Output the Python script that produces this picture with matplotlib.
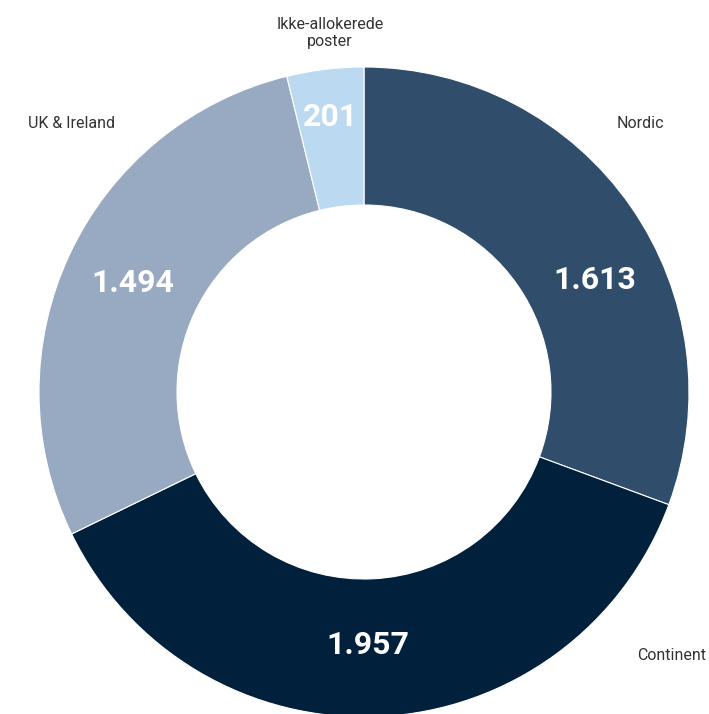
import numpy as np
import matplotlib
matplotlib.use("Agg")
import matplotlib.pyplot as plt

categories = ["Nordic", "Continent", "UK & Ireland", "Ikke-allokerede\nposter"]
values = [1613, 1957, 1494, 201]
value_labels = ["1.613", "1.957", "1.494", "201"]
colors = ["#304E6C", "#00203C", "#98A9C2", "#BCD9F2"]

W, H = 709, 714
fig = plt.figure(figsize=(W / 100, H / 100), dpi=100)
ax = fig.add_axes([0, 0, 1, 1])

cx, cy = 364, H - 392
R_out, R_in = 325, 187

wedges, _ = ax.pie(values, colors=colors, startangle=90, counterclock=False,
                   radius=R_out, center=(cx, cy),
                   wedgeprops=dict(width=R_out - R_in, edgecolor="white", linewidth=0.8),
                   frame=True)
ax.set_xlim(0, W)
ax.set_ylim(0, H)
ax.set_aspect("equal")
ax.axis("off")

# value label placement (angle offset in degrees, radius) inside the ring
val_place = [(-9, 257), (-1.9, 253), (0, 256), (0, 277)]
for w, lab, (da, r) in zip(wedges, value_labels, val_place):
    ang = np.deg2rad((w.theta1 + w.theta2) / 2 + da)
    ax.text(cx + r * np.cos(ang), cy + r * np.sin(ang), lab, ha="center", va="center",
            color="white", fontsize=23, fontweight="bold", family="Roboto")

# outer category labels
label_pos = [(640, H - 123), (672, H - 655), (72, H - 123), (330, H - 33)]
for (x, y), name in zip(label_pos, categories):
    ax.text(x, y, name, ha="center", va="center", color="#333333", fontsize=11.5,
            family="Roboto", linespacing=1.15)

fig.savefig("out.png", dpi=100, facecolor="white")
